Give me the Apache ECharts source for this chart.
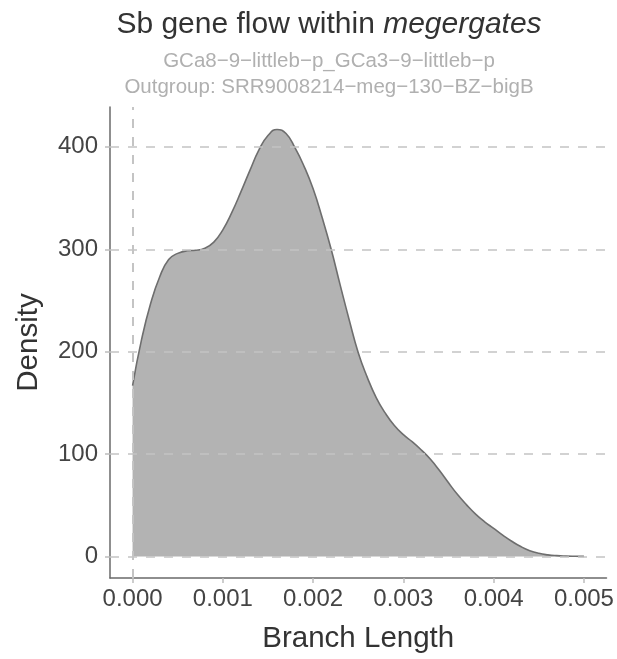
<!DOCTYPE html>
<html>
<head>
<meta charset="utf-8">
<script src="https://cdn.jsdelivr.net/npm/echarts@6/dist/echarts.min.js"></script>
<style>
  html, body { margin: 0; padding: 0; background: #ffffff; }
  #chart { width: 617px; height: 659px; }
</style>
</head>
<body>
<div id="chart"></div>
<script>
// Kernel density of branch lengths
const branchLength = [
  0.0000, 0.0001, 0.0002, 0.0003, 0.0004, 0.0005, 0.0006, 0.0007, 0.0008, 0.0009,
  0.0010, 0.0011, 0.0012, 0.0013, 0.0014, 0.0015, 0.0016, 0.0017, 0.0018, 0.0019,
  0.0020, 0.0021, 0.0022, 0.0023, 0.0024, 0.0025, 0.0026, 0.0027, 0.0028, 0.0029,
  0.0030, 0.0031, 0.0032, 0.0033, 0.0034, 0.0035, 0.0036, 0.0037, 0.0038, 0.0039,
  0.0040, 0.0041, 0.0042, 0.0043, 0.0044, 0.0045, 0.0046, 0.0047, 0.0048, 0.0049,
  0.0050
];
const density = [
  167, 212, 247, 273, 290, 296, 298.5, 299, 301, 307,
  319, 336, 356, 377, 397, 411, 417, 413, 399, 381,
  359, 331, 300, 265, 231, 199, 175, 155, 140, 128,
  119, 112, 104, 95, 84, 72, 60.5, 50.5, 41.5, 34,
  27.5, 21, 15, 9.8, 5.8, 3.2, 1.7, 0.9, 0.5, 0.3,
  0.2
];

// Axis ticks and labels
const xTicks = [0, 0.001, 0.002, 0.003, 0.004, 0.005];
const yTicks = [0, 100, 200, 300, 400];

// Texts
const titlePlain = 'Sb gene flow within ';
const titleItalic = 'megergates';
const subtitleLines = [
  'GCa8\u22129\u2212littleb\u2212p_GCa3\u22129\u2212littleb\u2212p',
  'Outgroup: SRR9008214\u2212meg\u2212130\u2212BZ\u2212bigB'
];
const xName = 'Branch Length';
const yName = 'Density';

// Panel limits padded by 5% of the data range on each side
const xMin = -0.00025, xMax = 0.00525;
const yMin = -20.9, yMax = 438.9;

const FONT = '"Liberation Sans", Arial, Helvetica, sans-serif';
const points = branchLength.map((x, i) => [x, density[i]]);

const gridStyle = { color: '#c4c4c4', width: 1.5, type: [9, 9] };

const chart = echarts.init(document.getElementById('chart'), null, { renderer: 'canvas' });

chart.setOption({
  animation: false,
  backgroundColor: '#ffffff',
  textStyle: { fontFamily: FONT },
  title: [
    {
      text: '{a|' + titlePlain + '}{b|' + titleItalic + '}',
      left: 324, top: 5, textAlign: 'center',
      textStyle: {
        fontWeight: 'normal',
        rich: {
          a: { fontSize: 30, lineHeight: 30, color: '#333333', fontFamily: FONT, fontWeight: 'normal' },
          b: { fontSize: 30, lineHeight: 30, color: '#333333', fontFamily: FONT, fontWeight: 'normal', fontStyle: 'italic' }
        }
      }
    },
    {
      text: subtitleLines[0],
      left: 324, top: 46, textAlign: 'center',
      textStyle: { fontSize: 20.5, lineHeight: 20.5, color: '#b0b0b0', fontWeight: 'normal', fontFamily: FONT }
    },
    {
      text: subtitleLines[1],
      left: 324, top: 72.5, textAlign: 'center',
      textStyle: { fontSize: 20.5, lineHeight: 20.5, color: '#b0b0b0', fontWeight: 'normal', fontFamily: FONT }
    }
  ],
  grid: { left: 110, right: 10.5, top: 107, bottom: 79.5, containLabel: false },
  xAxis: {
    type: 'value',
    min: xMin, max: xMax,
    name: xName,
    nameLocation: 'middle',
    nameGap: 46,
    nameTextStyle: { fontSize: 29.5, color: '#333333', fontFamily: FONT },
    axisLine: { show: true, onZero: false, lineStyle: { color: '#6a6a6a', width: 1.5 } },
    axisTick: { show: true, length: 5, customValues: xTicks, lineStyle: { color: '#bdbdbd', width: 1.5 } },
    axisLabel: {
      customValues: xTicks, margin: 9, fontSize: 24, color: '#444444', fontFamily: FONT,
      formatter: v => Number(v).toFixed(3)
    },
    splitLine: { show: false }
  },
  yAxis: {
    type: 'value',
    min: yMin, max: yMax,
    name: yName,
    nameLocation: 'middle',
    nameGap: 66,
    nameTextStyle: { fontSize: 29.5, color: '#333333', fontFamily: FONT },
    axisLine: { show: true, onZero: false, lineStyle: { color: '#6a6a6a', width: 1.5 } },
    axisTick: { show: true, length: 5, customValues: yTicks, lineStyle: { color: '#bdbdbd', width: 1.5 } },
    axisLabel: {
      customValues: yTicks, margin: 12, fontSize: 24, color: '#444444', fontFamily: FONT,
      formatter: v => String(Math.round(v))
    },
    splitLine: { show: false }
  },
  series: [
    {
      // dashed major grid, drawn beneath the density area
      type: 'line',
      z: 1,
      data: [],
      silent: true,
      markLine: {
        silent: true,
        symbol: 'none',
        label: { show: false },
        lineStyle: gridStyle,
        emphasis: { disabled: true },
        data: xTicks.map(v => ({ xAxis: v })).concat(yTicks.map(v => ({ yAxis: v })))
      }
    },
    {
      type: 'line',
      z: 2,
      data: points,
      smooth: 0.5,
      showSymbol: false,
      symbol: 'none',
      lineStyle: { color: '#6e6e6e', width: 1.6 },
      areaStyle: { color: 'rgba(119,119,119,0.56)', opacity: 1, origin: 0 },
      silent: true
    }
  ]
});
</script>
</body>
</html>
